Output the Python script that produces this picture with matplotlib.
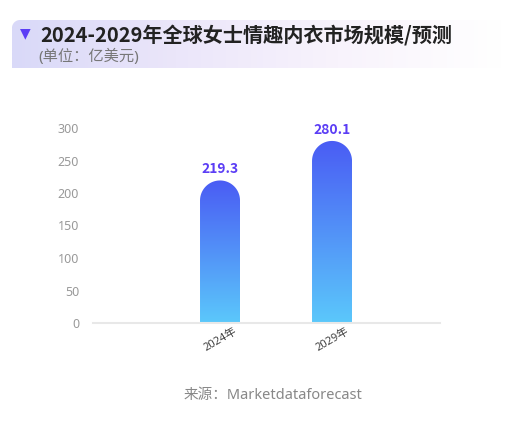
import numpy as np
import matplotlib
matplotlib.use("Agg")
import matplotlib.pyplot as plt
from matplotlib.path import Path
from matplotlib.patches import PathPatch
from matplotlib.colors import LinearSegmentedColormap

plt.rcParams['font.family'] = ['Noto Sans', 'Noto Sans CJK SC', 'DejaVu Sans']
gras = ['Noto Sans CJK SC', 'DejaVu Sans']

# données
annees = ["2024年", "2029年"]
valeurs = [219.3, 280.1]
yticks = [0, 50, 100, 150, 200, 250, 300]
titre = "2024-2029年全球女士情趣内衣市场规模/预测"
unite = "(单位：亿美元)"
source = "来源：Marketdataforecast"

W, H = 529, 442
fig = plt.figure(figsize=(W / 100, H / 100), dpi=100)
fig.patch.set_facecolor("white")

# bandeau du titre avec dégradé (coin haut gauche arrondi)
hx0, hy0, hw, hh = 12, 20, 490, 48
hax = fig.add_axes([hx0 / W, 1 - (hy0 + hh) / H, hw / W, hh / H])
hax.set_xlim(0, hw)
hax.set_ylim(0, hh)
hax.axis("off")
cmap_h = LinearSegmentedColormap.from_list("h", ["#d9d9f8", "#ebe6fa", "#f8f3fc", "#ffffff"])
grad = np.linspace(0, 1, 256).reshape(1, -1)
im = hax.imshow(grad, cmap=cmap_h, extent=[0, hw, 0, hh], aspect="auto")
r = 8
arc = [(r - r * np.cos(a), hh - r + r * np.sin(a)) for a in np.linspace(0, np.pi / 2, 20)]
contour = [(0, 0)] + arc + [(hw, hh), (hw, 0), (0, 0)]
clip = PathPatch(Path(contour), transform=hax.transData, facecolor="none", edgecolor="none")
hax.add_patch(clip)
im.set_clip_path(clip)

fig.text(20 / W, 1 - 33 / H, "▼", color="#5b3df5", fontsize=10, va="center", ha="left",
         family=["DejaVu Sans"])
fig.text(40 / W, 1 - 35 / H, titre, color="#222222", fontsize=14.5, fontweight="bold",
         va="center", ha="left", family=gras)
fig.text(38 / W, 1 - 57 / H, unite, color="#777777", fontsize=11, va="center", ha="left")

# axes principal
ax_l, ax_r, ax_t, ax_b = 93, 440, 128, 323
ax = fig.add_axes([ax_l / W, 1 - ax_b / H, (ax_r - ax_l) / W, (ax_b - ax_t) / H])
x = np.arange(len(annees))
ax.set_xlim(-1.134, 1.964)
ax.set_ylim(0, 300)
for s in ["top", "right", "left"]:
    ax.spines[s].set_visible(False)
ax.spines["bottom"].set_color("#e8e8e8")
ax.spines["bottom"].set_linewidth(1.5)
ax.set_yticks(yticks)
ax.set_yticklabels([str(v) for v in yticks], color="#999999", fontsize=9)
ax.tick_params(axis="y", length=0, pad=10)
ax.set_xticks([])

# barres arrondies avec dégradé
fig.canvas.draw()
px_x = ax.transData.transform((1, 0))[0] - ax.transData.transform((0, 0))[0]
px_y = ax.transData.transform((0, 1))[1] - ax.transData.transform((0, 0))[1]
largeur = 40 / px_x
rx = largeur / 2
ry = 20 / px_y
cmap_b = LinearSegmentedColormap.from_list("b", ["#5bc8fb", "#4a5cf4"])
for xi, v, lab in zip(x, valeurs, annees):
    x0, x1 = xi - rx, xi + rx
    yc = v - ry
    t = np.linspace(0, np.pi, 40)
    pts = [(x0, 0), (x1, 0), (x1, yc)]
    pts += [(xi + rx * np.cos(a), yc + ry * np.sin(a)) for a in t]
    pts += [(x0, 0)]
    patch = PathPatch(Path(pts), facecolor="none", edgecolor="none")
    ax.add_patch(patch)
    g = np.linspace(0, 1, 256).reshape(-1, 1)
    bim = ax.imshow(g, cmap=cmap_b, extent=[x0, x1, 0, v], origin="lower",
                    aspect="auto", zorder=2)
    bim.set_clip_path(patch)
    ax.text(xi, v + 4 / px_y, f"{v}", color="#5b3df5", fontsize=10, fontweight="bold",
            ha="center", va="bottom", family=gras)
    ax.text(xi, -17 / px_y, lab, color="#444444", fontsize=8,
            rotation=30, ha="center", va="center", clip_on=False)
ax.set_xlim(-1.134, 1.964)
ax.set_ylim(0, 300)

fig.text(273 / W, 1 - 396 / H, source, color="#888888", fontsize=10.5, ha="center",
         va="center")

fig.savefig("out.png", dpi=100)
